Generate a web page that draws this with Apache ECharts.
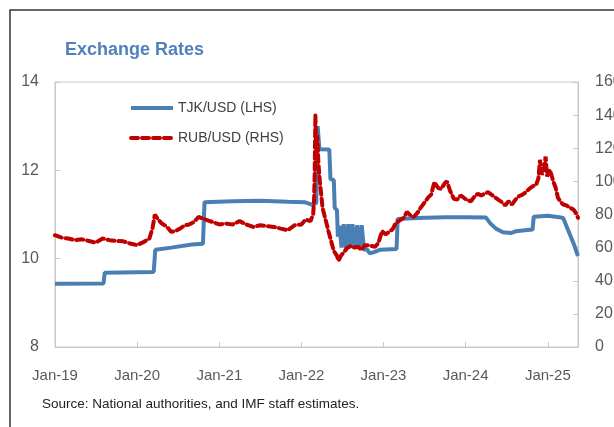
<!DOCTYPE html>
<html>
<head>
    <meta http-equiv="Content-Type" content="text/html; charset=utf-8" />
    <style type="text/css">
        body, html, #chart {width: 614px; height: 427px; overflow: hidden; margin: 0; background: #fff;}
    </style>
    <title>Exchange Rates</title>
</head>
<body>
<div id="chart"></div>
<script src="https://cdn.jsdelivr.net/npm/echarts@6/dist/echarts.min.js"></script>
<script type="text/javascript">
    // TJK/USD (LHS)
    var tjkDates = ['2019-01-01','2019-08-05','2019-08-10','2020-03-15','2020-03-22','2020-06-01','2020-09-01','2020-10-20',
        '2020-10-27','2021-03-01','2021-07-01','2021-11-01','2022-01-15','2022-02-20','2022-03-08','2022-03-14',
        '2022-03-22','2022-05-05','2022-05-10','2022-05-25','2022-05-29','2022-06-08','2022-06-12','2022-06-20',
        '2022-06-28','2022-07-08','2022-07-18','2022-07-28','2022-08-06','2022-08-16','2022-08-26','2022-09-06',
        '2022-09-16','2022-09-26','2022-10-06','2022-10-18','2022-11-01','2022-11-20','2022-12-15','2023-02-28',
        '2023-03-05','2023-06-01','2023-10-01','2024-01-01','2024-04-01','2024-04-20','2024-05-15','2024-06-15',
        '2024-07-20','2024-08-10','2024-10-25','2024-10-30','2025-01-01','2025-02-20','2025-03-10','2025-04-05',
        '2025-04-25','2025-05-15'];
    var tjkValues = [9.43,9.44,9.68,9.70,10.20,10.25,10.32,10.34,
        11.28,11.30,11.31,11.29,11.28,11.22,11.26,13.00,
        12.48,12.47,11.80,11.78,11.15,11.10,10.50,10.75,
        10.25,10.78,10.22,10.78,10.25,10.78,10.24,10.76,
        10.22,10.76,10.20,10.22,10.12,10.15,10.20,10.22,
        10.90,10.92,10.94,10.94,10.93,10.80,10.68,10.60,
        10.58,10.62,10.66,10.95,10.97,10.94,10.92,10.60,
        10.35,10.06];

    // RUB/USD (RHS)
    var rubDates = ['2019-01-01','2019-02-01','2019-03-01','2019-04-01','2019-05-01','2019-06-01','2019-07-01','2019-08-01',
        '2019-09-01','2019-10-01','2019-11-01','2019-12-01','2020-01-01','2020-02-01','2020-02-25','2020-03-10',
        '2020-03-20','2020-04-01','2020-04-20','2020-05-10','2020-06-01','2020-06-20','2020-07-10','2020-08-01',
        '2020-08-20','2020-09-10','2020-10-01','2020-10-20','2020-11-10','2020-12-01','2021-01-01','2021-02-01',
        '2021-03-01','2021-04-01','2021-05-01','2021-06-01','2021-07-01','2021-08-01','2021-09-01','2021-10-01',
        '2021-11-01','2021-12-01','2022-01-01','2022-01-20','2022-02-10','2022-02-22','2022-02-26','2022-03-01',
        '2022-03-04','2022-03-08','2022-03-12','2022-03-18','2022-03-24','2022-04-05','2022-04-20','2022-05-01',
        '2022-05-15','2022-05-25','2022-06-08','2022-06-15','2022-06-25','2022-07-10','2022-07-25','2022-08-10',
        '2022-08-25','2022-09-10','2022-09-25','2022-10-10','2022-10-25','2022-11-10','2022-11-25','2022-12-10',
        '2022-12-25','2023-01-10','2023-01-25','2023-02-10','2023-02-25','2023-03-15','2023-04-01','2023-04-15',
        '2023-05-01','2023-05-15','2023-06-01','2023-06-15','2023-07-01','2023-07-20','2023-08-01','2023-08-15',
        '2023-09-01','2023-09-15','2023-10-01','2023-10-10','2023-10-25','2023-11-10','2023-11-25','2023-12-10',
        '2023-12-25','2024-01-10','2024-01-25','2024-02-10','2024-02-25','2024-03-10','2024-03-25','2024-04-10',
        '2024-04-25','2024-05-10','2024-05-25','2024-06-10','2024-06-25','2024-07-10','2024-07-25','2024-08-10',
        '2024-08-25','2024-09-10','2024-09-25','2024-10-10','2024-10-25','2024-11-10','2024-11-20','2024-11-27',
        '2024-12-05','2024-12-15','2024-12-22','2024-12-28','2025-01-10','2025-01-25','2025-02-05','2025-02-15',
        '2025-02-25','2025-03-10','2025-03-25','2025-04-10','2025-04-25','2025-05-10','2025-05-15'];
    var rubValues = [67.5,66.0,65.5,64.5,65.0,64.0,63.0,65.5,
        64.5,64.0,63.8,62.5,61.5,63.5,65.5,72.0,
        80.0,77.5,74.5,73.0,69.5,70.0,71.5,73.5,
        74.0,75.5,78.5,77.5,76.5,75.5,74.0,74.5,
        74.0,76.0,74.0,72.5,73.5,73.0,72.5,71.5,
        70.5,73.5,74.0,77.0,76.0,80.0,88.0,105.0,
        140.0,120.0,128.0,110.0,100.0,84.0,76.0,70.0,
        63.0,58.0,55.0,52.0,55.0,57.5,60.0,61.0,
        60.0,60.5,58.5,61.5,61.5,61.0,60.5,63.0,
        70.0,68.0,69.5,71.0,75.0,76.5,78.0,81.5,
        79.5,78.5,81.0,84.0,87.0,90.5,92.0,99.5,
        96.0,95.5,99.0,100.0,94.0,89.5,89.0,91.5,
        90.0,88.5,88.0,91.0,92.5,91.5,92.5,93.5,
        92.0,90.5,89.0,87.5,85.5,88.0,86.0,89.0,
        91.0,92.0,93.5,95.5,97.0,98.0,102.0,113.0,
        104.0,108.0,115.0,103.0,107.0,100.0,96.0,90.0,
        88.0,86.0,85.5,84.0,83.0,80.0,78.0];

    // x-axis ticks, one per January
    var yearTicks = ['2019-01-01','2020-01-01','2021-01-01','2022-01-01','2023-01-01','2024-01-01','2025-01-01'];
    var yearLabels = ['Jan-19','Jan-20','Jan-21','Jan-22','Jan-23','Jan-24','Jan-25'];
    var xEnd = '2025-05-15';
    var leftTicks = [8, 14, 2];
    var rightTicks = [0, 160, 20];

    var font = 'Liberation Sans';
    var blue = '#4a7fb3';
    var red = '#c00000';
    var axisGray = '#c8c8c8';

    function ts(d) { return Date.parse(d); }
    function pairs(d, v) {
        return d.map(function (x, i) { return [ts(x), v[i]]; });
    }
    var tickTimes = yearTicks.map(ts);

    var myChart = echarts.init(document.getElementById('chart'));
    myChart.setOption({
        animation: false,
        title: {
            text: 'Exchange Rates',
            left: 60, top: 36,
            textStyle: {fontFamily: font, fontSize: 18, fontWeight: 'bold', color: '#4f81bd'}
        },
        graphic: [{
            type: 'rect',
            shape: {x: 10, y: 10, width: 620, height: 440},
            style: {fill: 'none', stroke: '#333', lineWidth: 1.5},
            silent: true
        }, {
            type: 'text',
            left: 42, top: 397,
            style: {text: 'Source: National authorities, and IMF staff estimates.', font: '13.5px ' + font, fill: '#222'}
        }],
        legend: {
            orient: 'vertical',
            left: 124, top: 96,
            itemWidth: 42, itemHeight: 14, itemGap: 16,
            itemStyle: {opacity: 0},
            lineStyle: {width: 4},
            textStyle: {fontFamily: font, fontSize: 14, color: '#404040'},
            data: ['TJK/USD (LHS)', 'RUB/USD (RHS)']
        },
        grid: {
            left: 55, right: 36, top: 82, bottom: 80,
            outerBoundsMode: 'none',
            containLabel: false,
            show: true, borderColor: axisGray, borderWidth: 1
        },
        xAxis: {
            type: 'value',
            min: tickTimes[0], max: ts(xEnd),
            splitLine: {show: false},
            axisLine: {lineStyle: {color: axisGray}},
            axisTick: {show: true, inside: true, length: 5, lineStyle: {color: axisGray}, customValues: tickTimes},
            axisLabel: {
                fontFamily: font, fontSize: 15, color: '#595959', margin: 21,
                customValues: tickTimes,
                formatter: function (v) {
                    return yearLabels[tickTimes.indexOf(v)] || '';
                }
            }
        },
        yAxis: [{
            type: 'value',
            min: leftTicks[0], max: leftTicks[1], interval: leftTicks[2],
            splitLine: {show: false},
            axisLine: {show: true, lineStyle: {color: axisGray}},
            axisTick: {show: true, inside: true, length: 5, lineStyle: {color: axisGray}},
            axisLabel: {fontFamily: font, fontSize: 16, color: '#595959', margin: 16}
        }, {
            type: 'value',
            min: rightTicks[0], max: rightTicks[1], interval: rightTicks[2],
            splitLine: {show: false},
            axisLine: {show: true, lineStyle: {color: axisGray}},
            axisTick: {show: true, inside: true, length: 5, lineStyle: {color: axisGray}},
            axisLabel: {fontFamily: font, fontSize: 16, color: '#595959', margin: 17}
        }],
        series: [{
            name: 'TJK/USD (LHS)',
            type: 'line',
            yAxisIndex: 0,
            symbol: 'none',
            data: pairs(tjkDates, tjkValues),
            lineStyle: {color: blue, width: 4},
            itemStyle: {color: blue}
        }, {
            name: 'RUB/USD (RHS)',
            type: 'line',
            yAxisIndex: 1,
            symbol: 'none',
            data: pairs(rubDates, rubValues),
            lineStyle: {color: red, width: 4, type: [7, 4], cap: 'round'},
            itemStyle: {color: red}
        }]
    });
</script>
</body>
</html>
